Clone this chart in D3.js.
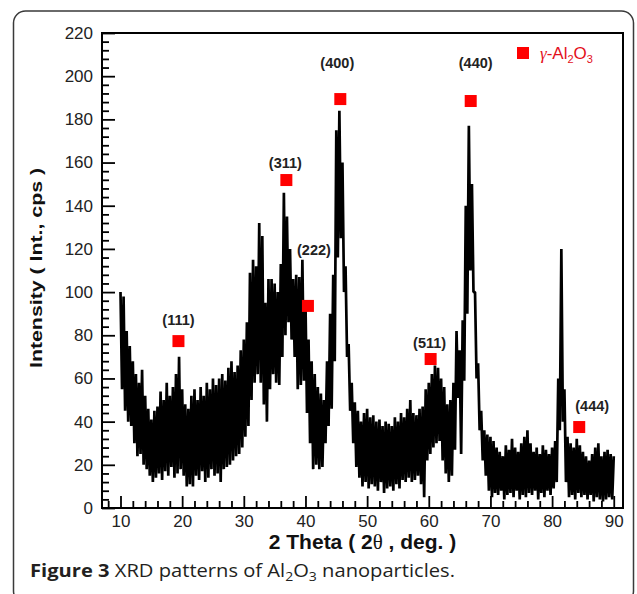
<!DOCTYPE html>
<html lang="en">
<head>
    <meta charset="UTF-8">
    <title>XRD patterns of Al2O3 nanoparticles</title>
    <script src="https://d3js.org/d3.v7.min.js"></script>
    <style>
        body { margin: 0; background: #fff; }
    </style>
</head>
<body>
    <svg id="xrd"></svg>
    <script>
        // scan: top and bottom of the noisy trace every 0.5 deg
        const twoTheta = [
            10, 10.5, 11, 11.5, 12, 12.5, 13, 13.5, 14, 14.5,
            15, 15.5, 16, 16.5, 17, 17.5, 18, 18.5, 19, 19.5,
            20, 20.5, 21, 21.5, 22, 22.5, 23, 23.5, 24, 24.5,
            25, 25.5, 26, 26.5, 27, 27.5, 28, 28.5, 29, 29.5,
            30, 30.5, 31, 31.5, 32, 32.5, 33, 33.5, 34, 34.5,
            35, 35.5, 36, 36.5, 37, 37.5, 38, 38.5, 39, 39.5,
            40, 40.5, 41, 41.5, 42, 42.5, 43, 43.5, 44, 44.5,
            45, 45.5, 46, 46.5, 47, 47.5, 48, 48.5, 49, 49.5,
            50, 50.5, 51, 51.5, 52, 52.5, 53, 53.5, 54, 54.5,
            55, 55.5, 56, 56.5, 57, 57.5, 58, 58.5, 59, 59.5,
            60, 60.5, 61, 61.5, 62, 62.5, 63, 63.5, 64, 64.5,
            65, 65.5, 66, 66.5, 67, 67.5, 68, 68.5, 69, 69.5,
            70, 70.5, 71, 71.5, 72, 72.5, 73, 73.5, 74, 74.5,
            75, 75.5, 76, 76.5, 77, 77.5, 78, 78.5, 79, 79.5,
            80, 80.5, 81, 81.5, 82, 82.5, 83, 83.5, 84, 84.5,
            85, 85.5, 86, 86.5, 87, 87.5, 88, 88.5, 89, 89.5,
            90
        ];
        const intensityHigh = [
            100, 98, 82, 75, 68, 62, 58, 64, 52, 46,
            41, 45, 47, 54, 50, 58, 52, 56, 62, 70,
            55, 48, 46, 52, 55, 50, 56, 52, 58, 55,
            60, 57, 60, 62, 59, 65, 68, 63, 66, 73,
            78, 86, 109, 115, 112, 132, 126, 95, 106, 106,
            104, 100, 113, 146, 135, 120, 106, 108, 107, 115,
            96, 78, 68, 62, 56, 53, 50, 68, 90, 108,
            175, 184, 160, 112, 76, 58, 49, 45, 40, 44,
            46, 42, 43, 40, 41, 38, 40, 39, 38, 42,
            40, 44, 42, 46, 50, 44, 43, 46, 47, 55,
            58, 62, 66, 65, 60, 56, 48, 50, 58, 82,
            73, 87, 140, 177, 150, 100, 67, 45, 36, 34,
            33, 31, 28, 26, 24, 29, 27, 32, 28, 26,
            30, 33, 36, 30, 26, 28, 25, 29, 27, 25,
            28, 31, 60, 120, 55, 33, 30, 28, 32, 29,
            26, 24, 22, 25, 28, 30, 24, 26, 27, 25,
            24
        ];
        const intensityLow = [
            55, 45, 40, 38, 30, 24, 25, 20, 18, 15,
            12, 14, 16, 13, 17, 15, 19, 14, 16, 18,
            15, 10, 11, 10, 15, 13, 17, 12, 14, 18,
            15, 16, 12, 18, 19, 20, 22, 24, 25, 28,
            33, 38, 50, 58, 62, 58, 48, 40, 55, 62,
            58, 57, 70, 80, 86, 78, 70, 55, 57, 59,
            44, 30, 18, 20, 18, 19, 30, 38, 46, 68,
            116, 125, 100, 70, 45, 30, 19, 14, 10, 12,
            9, 11, 10, 8, 12, 7, 9, 10, 8, 11,
            9, 13, 12, 14, 12, 13, 15, 11, 5, 22,
            25, 28, 30, 31, 22, 16, 12, 15, 27, 51,
            25, 59, 90, 110, 100, 60, 36, 22, 15, 8,
            5, 7, 6, 8, 4, 6, 7, 5, 8, 4,
            6, 5, 7, 6, 8, 4, 7, 5, 8, 6,
            9, 12, 36, 40, 12, 5, 6, 4, 7, 5,
            6, 4, 6, 3, 5, 4, 3, 4, 5, 4,
            8
        ];

        // gamma-Al2O3 reflections: square markers
        const peakLabels = ["(111)", "(311)", "(222)", "(400)", "(440)", "(511)", "(444)"];
        const peakAngles = [19.4, 36.9, 40.4, 45.65, 66.8, 60.3, 84.4];
        const peakMarks = [77.3, 151.9, 93.6, 189.4, 188.5, 69.0, 37.5];

        const xTickValues = [10, 20, 30, 40, 50, 60, 70, 80, 90];
        const yTickValues = [0, 20, 40, 60, 80, 100, 120, 140, 160, 180, 200, 220];

        // layout
        const width = 637;
        const height = 594;
        const plot = { left: 102, top: 33, right: 623, bottom: 508 };
        const labelOffsets = [[0, -16], [-1, -12], [6, -51], [-3, -31], [5, -33], [-1, -11], [13, -16]];
        const markerSize = 12;
        const red = "#ff0000";
        const sans = "'Liberation Sans', Arial, sans-serif";

        const svg = d3.select("#xrd")
            .attr("width", width)
            .attr("height", height);

        // rounded frame round the whole figure
        svg.append("rect")
            .attr("x", 13.5).attr("y", 11)
            .attr("width", 620).attr("height", 592)
            .attr("rx", 12)
            .attr("fill", "none")
            .attr("stroke", "#3a3a3a")
            .attr("stroke-width", 1.5);

        const x = d3.scaleLinear().domain([7, 91.5]).range([plot.left, plot.right]);
        const y = d3.scaleLinear().domain([0, 220]).range([plot.bottom, plot.top]);

        // trace: alternate top / bottom readings so the noise fills as a band
        const trace = [];
        twoTheta.forEach((t, i) => {
            trace.push([t, intensityHigh[i]]);
            if (i < twoTheta.length - 1) trace.push([t + 0.25, intensityLow[i]]);
        });

        svg.append("path")
            .datum(trace)
            .attr("fill", "none")
            .attr("stroke", "#000")
            .attr("stroke-width", 2.7)
            .attr("stroke-linejoin", "bevel")
            .attr("d", d3.line().x(d => x(d[0])).y(d => y(d[1])));

        // axes, ticks pointing inwards
        const xMinor = d3.range(8, 91, 2).filter(v => v % 10 !== 0);
        const yMinor = d3.range(0, 221, 4).filter(v => v % 20 !== 0);

        svg.append("g")
            .attr("transform", `translate(0,${plot.bottom})`)
            .call(d3.axisBottom(x).tickValues(xTickValues).tickSize(-12).tickPadding(7));
        svg.append("g")
            .attr("transform", `translate(0,${plot.bottom})`)
            .call(d3.axisBottom(x).tickValues(xMinor).tickSize(-7).tickFormat(""));

        svg.append("g")
            .attr("transform", `translate(${plot.left},0)`)
            .call(d3.axisLeft(y).tickValues(yTickValues).tickSize(-13).tickPadding(9));
        svg.append("g")
            .attr("transform", `translate(${plot.left},0)`)
            .call(d3.axisLeft(y).tickValues(yMinor).tickSize(-7).tickFormat(""));

        svg.selectAll(".domain").remove();
        svg.selectAll(".tick line").attr("stroke", "#000").attr("stroke-width", 1.8);
        svg.selectAll(".tick text")
            .attr("fill", "#222")
            .style("font-family", sans)
            .style("font-size", "17px");

        svg.append("rect")
            .attr("x", plot.left).attr("y", plot.top)
            .attr("width", plot.right - plot.left)
            .attr("height", plot.bottom - plot.top)
            .attr("fill", "none")
            .attr("stroke", "#000")
            .attr("stroke-width", 2);

        // peak markers and Miller indices
        svg.selectAll(".peak")
            .data(peakAngles)
            .enter().append("rect")
            .attr("class", "peak")
            .attr("x", d => x(d) - markerSize / 2)
            .attr("y", (d, i) => y(peakMarks[i]) - markerSize / 2)
            .attr("width", markerSize)
            .attr("height", markerSize)
            .attr("fill", red);

        svg.selectAll(".peak-label")
            .data(peakLabels)
            .enter().append("text")
            .attr("class", "peak-label")
            .attr("x", (d, i) => x(peakAngles[i]) + labelOffsets[i][0])
            .attr("y", (d, i) => y(peakMarks[i]) + labelOffsets[i][1])
            .attr("text-anchor", "middle")
            .style("font-family", sans)
            .style("font-size", "14.5px")
            .style("font-weight", "bold")
            .attr("fill", "#222")
            .text(d => d);

        // legend
        svg.append("rect")
            .attr("x", 517).attr("y", 47)
            .attr("width", markerSize).attr("height", markerSize)
            .attr("fill", red);
        const legend = svg.append("text")
            .attr("x", 540).attr("y", 58.5)
            .attr("fill", "#e3101b")
            .style("font-family", sans)
            .style("font-size", "17px");
        legend.append("tspan").style("font-family", "'Liberation Serif', serif").style("font-style", "italic").text("γ");
        legend.append("tspan").text("-Al");
        legend.append("tspan").attr("dy", 4).style("font-size", "11px").text("2");
        legend.append("tspan").attr("dy", -4).text("O");
        legend.append("tspan").attr("dy", 4).style("font-size", "11px").text("3");

        // axis titles
        svg.append("text")
            .attr("transform", "translate(42,268) rotate(-90)")
            .attr("text-anchor", "middle")
            .attr("textLength", 200)
            .attr("lengthAdjust", "spacingAndGlyphs")
            .style("font-family", sans)
            .style("font-size", "16px")
            .style("font-weight", "bold")
            .attr("fill", "#111")
            .text("Intensity ( Int., cps )");

        const xTitle = svg.append("text")
            .attr("x", 362.5).attr("y", 549)
            .attr("text-anchor", "middle")
            .style("font-family", sans)
            .style("font-size", "21px")
            .style("font-weight", "bold")
            .attr("fill", "#111");
        xTitle.append("tspan").text("2 Theta ( 2");
        xTitle.append("tspan").style("font-family", "'Liberation Serif', serif").style("font-weight", "normal").text("θ");
        xTitle.append("tspan").text(" , deg. )");

        // figure caption
        const caption = svg.append("text")
            .attr("x", 30).attr("y", 577)
            .attr("textLength", 425)
            .attr("lengthAdjust", "spacingAndGlyphs")
            .attr("fill", "#231f20")
            .style("font-family", "'Open Sans', sans-serif")
            .style("font-size", "18px");
        caption.append("tspan").style("font-weight", "bold").text("Figure 3");
        caption.append("tspan").text(" XRD patterns of Al");
        caption.append("tspan").attr("dy", 4).style("font-size", "12.5px").text("2");
        caption.append("tspan").attr("dy", -4).text("O");
        caption.append("tspan").attr("dy", 4).style("font-size", "12.5px").text("3");
        caption.append("tspan").attr("dy", -4).text(" nanoparticles.");
    </script>
</body>
</html>
